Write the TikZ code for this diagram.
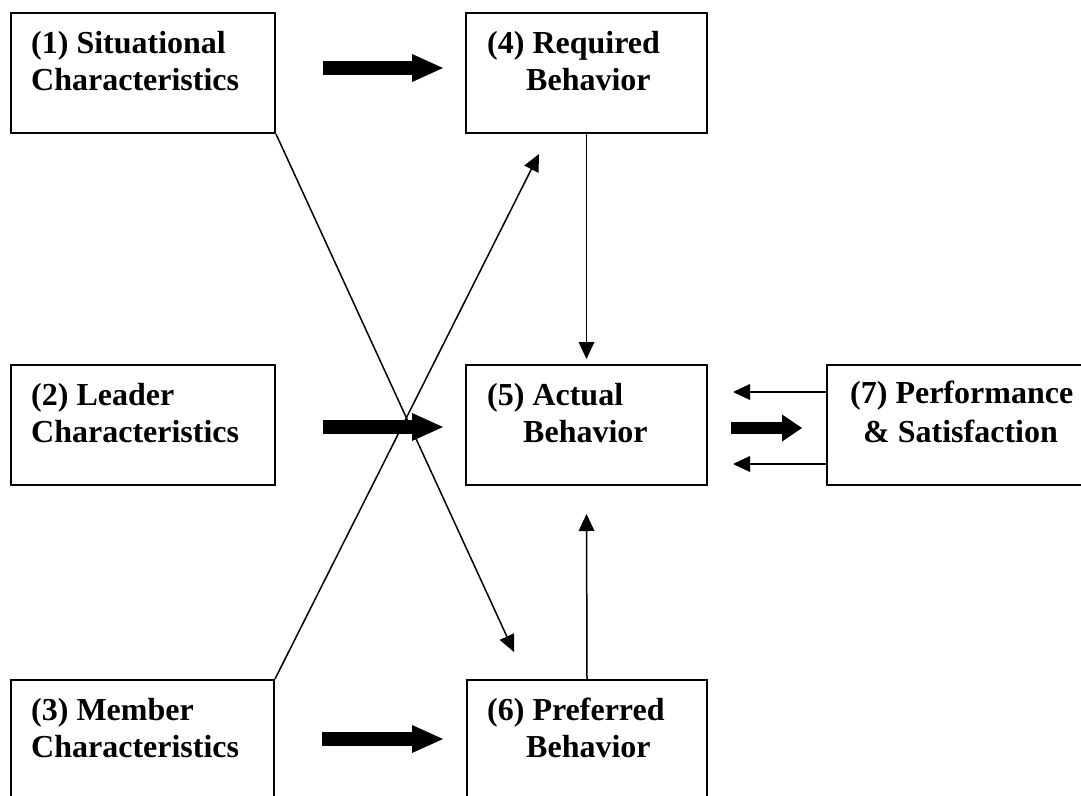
\documentclass[tikz,border=0pt]{standalone}
\usepackage{fontspec}
\setmainfont{Liberation Serif}
\usetikzlibrary{arrows.meta}
\begin{document}
\begin{tikzpicture}[x=1pt,y=-1pt,
  box/.style={draw=black, line width=2pt, rectangle, inner sep=0pt, anchor=north west},
  txt/.style={inner sep=0pt, anchor=base west, font=\fontsize{32}{37}\selectfont\bfseries},
  thin/.style={line width=1.5pt, -{Triangle[length=17pt,width=16pt,line width=0pt]}},
  fat/.style={line width=14pt, -{Triangle[length=31pt,width=28pt,line width=0pt]}},
  fatshort/.style={line width=12pt, -{Triangle[length=20pt,width=27pt,line width=0pt]}}]
\useasboundingbox (0,0) rectangle (1081,795);
\clip (0,0) rectangle (1081,795);
% boxes
\node[box, minimum width=264pt, minimum height=120pt] (b1) at (10,12) {};
\node[box, minimum width=241pt, minimum height=120pt] (b4) at (465,12) {};
\node[box, minimum width=264pt, minimum height=120pt] (b2) at (10,364) {};
\node[box, minimum width=241pt, minimum height=120pt] (b5) at (465,364) {};
\node[box, minimum width=274pt, minimum height=120pt] (b7) at (826,364) {};
\node[box, minimum width=263pt, minimum height=130pt] (b3) at (10,679) {};
\node[box, minimum width=240pt, minimum height=130pt] (b6) at (466,679) {};
% texts
\node[txt] (t1a) at (31,53) {(1) Situational};
\node[txt] (t1b) at (31,90) {Characteristics};
\node[txt] (t4a) at (487,53) {(4) Required};
\node[txt] (t4b) at (526,90) {Behavior};
\node[txt] (t2a) at (31,405) {(2) Leader};
\node[txt] (t2b) at (31,442) {Characteristics};
\node[txt] (t5a) at (487,405) {(5) Actual};
\node[txt] (t5b) at (523,442) {Behavior};
\node[txt] (t7a) at (850,403) {(7) Performance};
\node[txt] (t7b) at (863,442) {\& Satisfaction};
\node[txt] (t3a) at (31,720) {(3) Member};
\node[txt] (t3b) at (31,757) {Characteristics};
\node[txt] (t6a) at (487,720) {(6) Preferred};
\node[txt] (t6b) at (526,757) {Behavior};
% fat arrows
\draw[fat] ([xshift=47pt,yshift=5pt]b1.east) -- ([xshift=-22pt,yshift=5pt]b4.west);
\draw[fat] ([xshift=47pt,yshift=-2pt]b2.east) -- ([xshift=-22pt,yshift=-2pt]b5.west);
\draw[fat] ([xshift=47pt,yshift=-60pt]b3.north east) -- ([xshift=-23pt,yshift=-60pt]b6.north west);
\draw[fatshort] ([xshift=23pt,yshift=-3pt]b5.east) -- ([xshift=-24pt,yshift=-3pt]b7.west);
% thin arrows
\draw[thin] (b4.south) -- ([yshift=5pt]b5.north);
\draw[thin] (b6.north) -- ([yshift=-28pt]b5.south);
\draw[thin] ([yshift=33pt]b7.west) -- ([xshift=25pt,yshift=33pt]b5.east);
\draw[thin] ([yshift=-39pt]b7.west) -- ([xshift=25pt,yshift=-39pt]b5.east);
\draw[thin] (b1.south east) -- ([xshift=48pt,yshift=27pt]b6.north west);
\draw[thin] (b3.north east) -- ([xshift=74pt,yshift=-20pt]b4.south west);
\end{tikzpicture}
\end{document}
